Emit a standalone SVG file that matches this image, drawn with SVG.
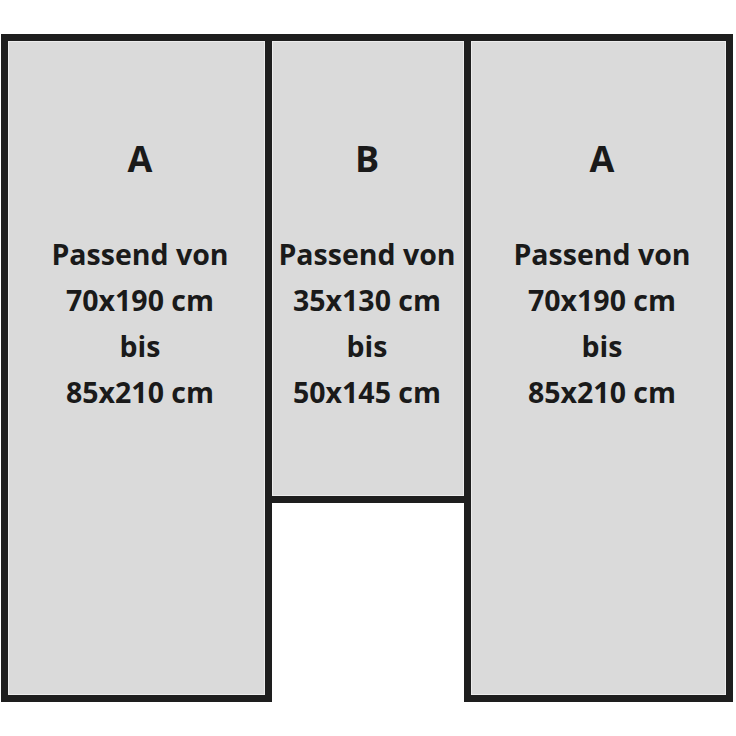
<svg xmlns="http://www.w3.org/2000/svg" width="736" height="736" viewBox="0 0 736 736">
<style>
.panel{fill:#dadada;stroke:#1e1e1e;stroke-width:7}
.hl{fill:none;stroke:#ececec;stroke-width:1}
.t{font-family:"Open Sans","Liberation Sans",sans-serif;font-weight:bold;fill:#1a1a1a;text-anchor:middle}
.big{font-size:36px}
.txt{font-size:28.5px}
</style>
<rect width="736" height="736" fill="#ffffff"/>
<g id="panel-left">
<rect class="panel" x="4.5" y="37.5" width="264" height="661"/>
<rect class="hl" x="8.5" y="41.5" width="256" height="653"/>
<text class="t big" x="140" y="172">A</text>
<text class="t txt" x="140" y="265">Passend von</text>
<text class="t txt" x="140" y="311">70x190 cm</text>
<text class="t txt" x="140" y="357">bis</text>
<text class="t txt" x="140" y="403">85x210 cm</text>
</g>
<g id="panel-middle">
<rect class="panel" x="268.5" y="37.5" width="199" height="462"/>
<rect class="hl" x="272.5" y="41.5" width="191" height="454"/>
<text class="t big" x="367" y="172">B</text>
<text class="t txt" x="367" y="265">Passend von</text>
<text class="t txt" x="367" y="311">35x130 cm</text>
<text class="t txt" x="367" y="357">bis</text>
<text class="t txt" x="367" y="403">50x145 cm</text>
</g>
<g id="panel-right">
<rect class="panel" x="467.5" y="37.5" width="262" height="661"/>
<rect class="hl" x="471.5" y="41.5" width="254" height="653"/>
<text class="t big" x="602" y="172">A</text>
<text class="t txt" x="602" y="265">Passend von</text>
<text class="t txt" x="602" y="311">70x190 cm</text>
<text class="t txt" x="602" y="357">bis</text>
<text class="t txt" x="602" y="403">85x210 cm</text>
</g>
<g id="connectors"></g>
</svg>
